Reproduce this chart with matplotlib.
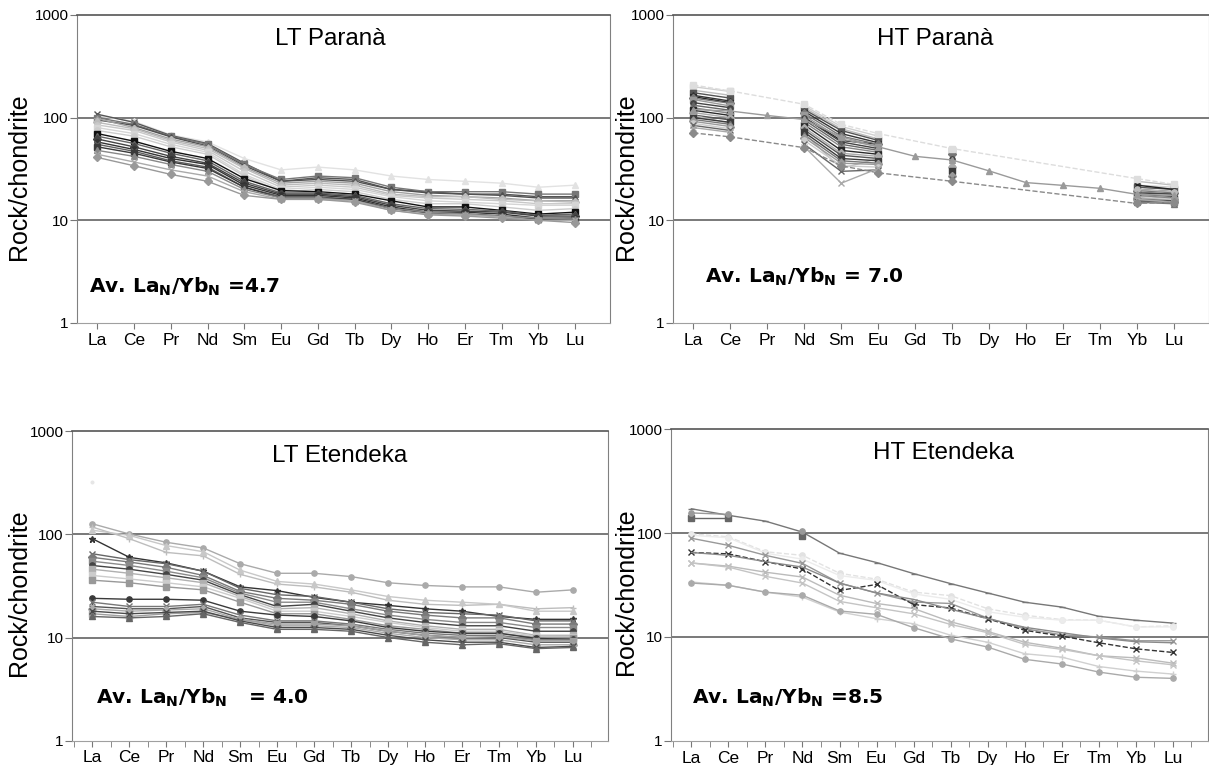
import numpy as np
import matplotlib.pyplot as plt

plt.rcParams['font.family'] = ['Liberation Sans', 'DejaVu Sans']

nan = np.nan
ree = ['La', 'Ce', 'Pr', 'Nd', 'Sm', 'Eu', 'Gd', 'Tb', 'Dy', 'Ho', 'Er', 'Tm', 'Yb', 'Lu']
y_ticks = [1, 10, 100, 1000]

# ---- LT Parana (chondrite normalised) ----
lt_parana = [
    [104, 92, 68, 58, 40, 31, 33, 31, 27, 25, 24, 23, 21, 22],
    [108, 90, 67, 56, 36, 24, 26, 25, 20, 19, 18, 18, 17, 17],
    [100, 86, 66, 55, 35, 25, 27, 26, 21, 19, 19, 19, 18, 18],
    [95, 84, 65, 53, 34, 24, 25, 24, 20, 18.5, 18, 17.5, 16.5, 16.5],
    [98, 80, 62, 52, 33, 23, 24, 23, 19, 17.5, 17, 16.5, 15.5, 15.5],
    [90, 78, 60, 50, 32, 22, 23, 22, 18, 17, 17, 16, 15.5, 15],
    [85, 75, 58, 48, 30, 21, 22, 21, 17.5, 16.5, 16, 15.5, 14.5, 14.5],
    [80, 70, 55, 46, 28, 20, 21, 20, 17, 15.5, 15, 14.5, 14, 14],
    [75, 66, 52, 44, 27, 19, 20, 19, 16, 14.5, 14.5, 13.5, 12.5, 13],
    [70, 59, 47, 40, 25.5, 19.5, 19, 18, 15.5, 13.5, 13.5, 12.5, 11.5, 12],
    [66, 56, 45, 38, 24, 18.5, 18.5, 17.5, 14.5, 13, 12.8, 12.3, 11.2, 11.5],
    [62, 52, 42, 36, 23, 18, 18, 17, 14, 12.5, 12.3, 12, 11, 11],
    [58, 49, 40, 35, 22, 17.5, 17.5, 16.5, 13.5, 12, 12, 11.5, 10.5, 10.5],
    [55, 47, 38, 33, 21, 17, 17, 16, 13, 12, 11.5, 11, 10.3, 10.5],
    [52, 45, 37, 32, 21, 16.5, 16.5, 16, 13, 11.8, 11.5, 11, 10.2, 10.2],
    [48, 42, 35, 30, 20, 16.5, 16.5, 15.5, 13, 12, 11.5, 11, 10.5, 10.3],
    [44, 37, 31, 27, 19, 16, 16, 15.5, 12.5, 11.5, 11.3, 10.8, 10, 10],
    [41, 34, 28, 24, 17.5, 16, 16, 15, 12.5, 11.3, 11, 10.5, 10, 9.5],
]
lt_parana_colors = ['#e2e2e2', '#555555', '#777777', '#505050', '#a0a0a0', '#bbbbbb',
                    '#c8c8c8', '#d5d5d5', '#cccccc', '#111111', '#666666', '#444444',
                    '#333333', '#606060', '#3a3a3a', '#888888', '#aaaaaa', '#999999']
lt_parana_markers = ['^', 'x', 's', '^', '*', 'D', 'o', 's', 'o', 's', '^', 'D',
                     'o', 'x', 's', '^', 'x', 'D']

# ---- HT Parana: most samples lack Pr, Gd, Dy-Tm ----
ht_parana_gapped = [
    [200, 180, nan, 130, 82, 66, nan, nan, nan, nan, nan, nan, 22, 21],
    [185, 165, nan, 125, 78, 62, nan, nan, nan, nan, nan, nan, 24, 22],
    [175, 155, nan, 120, 75, 60, nan, 48, nan, nan, nan, nan, 21, 20],
    [165, 145, nan, 115, 70, 57, nan, nan, nan, nan, nan, nan, 20, 19],
    [160, 140, nan, 100, 60, 55, nan, nan, nan, nan, nan, nan, 22, 20],
    [155, 138, nan, 110, 66, 55, nan, 44, nan, nan, nan, nan, 19.5, 18.5],
    [150, 130, nan, 105, 62, 52, nan, nan, nan, nan, nan, nan, 19, 18],
    [140, 125, nan, 100, 58, 50, nan, 40, nan, nan, nan, nan, 18.5, 18],
    [132, 118, nan, 95, 55, 48, nan, nan, nan, nan, nan, nan, 18, 17],
    [125, 110, nan, 90, 52, 46, nan, 36, nan, nan, nan, nan, 17.5, 16.5],
    [118, 105, nan, 85, 48, 44, nan, nan, nan, nan, nan, nan, 17, 16],
    [112, 100, nan, 80, 45, 42, nan, 33, nan, nan, nan, nan, 16.5, 16],
    [106, 95, nan, 76, 43, 40, nan, nan, nan, nan, nan, nan, 16, 15.5],
    [105, 88, nan, 70, 32, 40, nan, nan, nan, nan, nan, nan, 20, 19],
    [100, 90, nan, 72, 40, 38, nan, 30, nan, nan, nan, nan, 15.5, 15],
    [96, 86, nan, 68, 38, 36, nan, nan, nan, nan, nan, nan, 15, 14.5],
    [92, 82, nan, 64, 36, 35, nan, 27, nan, nan, nan, nan, 16, 15],
    [88, 78, nan, 60, 34, 33, nan, nan, nan, nan, nan, nan, 17, 16],
    [84, 75, nan, 55, 30, 31, nan, 25, nan, nan, nan, nan, 15.5, 15],
    [80, 72, nan, 52, 23, 32, nan, nan, nan, nan, nan, nan, 16, 15],
]
ht_parana_gapped_colors = ['#cfcfcf', '#bdbdbd', '#555555', '#333333', '#222222', '#777777',
                           '#999999', '#444444', '#666666', '#888888', '#2a2a2a', '#aaaaaa',
                           '#555555', '#bbbbbb', '#3c3c3c', '#777777', '#9a9a9a', '#cccccc',
                           '#666666', '#aaaaaa']
ht_parana_gapped_markers = ['s', 'o', 's', '*', 'x', 'D', 's', 'o', '^', 'x', 's', 'D',
                            '*', 'o', 's', '^', 'D', 'o', 'x', 'x']

# samples plotted with the missing elements skipped
ht_parana_linked = [
    [208, 182, nan, 135, 86, 70, nan, 50, nan, nan, nan, nan, 25.5, 22.4],
    [120, 116, 105, 96, 65, 52, 42, 38.7, 30.3, 23.3, 21.9, 20.5, 17.9, 17.5],
    [71, 65, nan, 51, 34, 29, nan, 24, nan, nan, nan, nan, 14.6, 15],
]
ht_parana_linked_colors = ['#dddddd', '#9a9a9a', '#8a8a8a']
ht_parana_linked_markers = ['s', '^', 'D']
ht_parana_linked_styles = ['--', '-', '--']

# ---- LT Etendeka ----
lt_etendeka = [
    [320, nan, nan, nan, nan, nan, nan, nan, nan, nan, nan, nan, nan, nan],
    [127, 101, 84, 74, 52, 42, 42, 39, 34, 32, 31, 31, 27.5, 29],
    [118, 91, 67, 62, 41, 33, 31, 27.5, 23, 21, 20.5, 21, 19, 19.5],
    [110, 98, 78, 68, 45, 35, 33, 29, 25, 23, 22, 21, 18, 18],
    [91, 60, 53, 44, 31, 28.5, 24.5, 22, 20.5, 19, 18, 16, 15, 15],
    [65, 57, 52, 44, 30, 26, 25, 22, 19, 17.5, 17, 16.5, 14.5, 14.5],
    [60, 54, 48, 40, 28, 24, 23, 21, 18, 16.5, 15.5, 15.5, 13.5, 13.5],
    [55, 50, 44, 38, 27, 22, 22, 19, 16.5, 15, 14, 14, 12.5, 12.5],
    [50, 46, 41, 36, 26, 20, 21, 18, 15.5, 14, 13, 13, 11.5, 11.5],
    [46, 42, 38, 34, 25, 19, 19.5, 17, 14.5, 13, 12, 12, 10.5, 10.5],
    [40, 37, 34, 31, 24, 18, 18, 16, 14, 12.5, 11.5, 11.5, 10.3, 10.2],
    [36, 34, 31, 29, 22, 17, 17, 15, 13, 12, 11, 11, 10, 10],
    [24, 23.5, 23.5, 23, 18, 16.5, 16, 14.5, 12.5, 11.5, 11, 11, 9.8, 9.6],
    [22, 20, 20, 21, 16.5, 14.5, 14.5, 13.5, 12, 11, 10.5, 10.5, 9.5, 9.5],
    [20, 19, 19, 20, 15.5, 14, 14, 13, 11.5, 10.5, 10, 10, 9, 9],
    [19, 18, 18.5, 19, 15, 13, 13, 12.5, 11, 10, 9.5, 9.5, 8.5, 8.5],
    [17, 16, 17, 17.5, 15, 13.5, 13.5, 13, 11.5, 10.5, 10, 10.2, 9.3, 9.3],
    [18, 17, 17.5, 18, 14.5, 12.5, 12.5, 12, 10.5, 9.5, 9, 9, 8, 8.2],
    [16, 15.5, 16, 17, 14, 12, 12, 11.5, 10, 9, 8.5, 8.7, 7.8, 8],
]
lt_etendeka_colors = ['#e6e6e6', '#aaaaaa', '#bdbdbd', '#c8c8c8', '#333333', '#666666',
                      '#7a7a7a', '#8a8a8a', '#444444', '#b0b0b0', '#cccccc', '#999999',
                      '#3a3a3a', '#777777', '#555555', '#aaaaaa', '#a0a0a0', '#4a4a4a',
                      '#666666']
lt_etendeka_markers = ['.', 'o', '+', '^', '*', 'x', 'D', 's', 'o', 's', 's', 's',
                       'o', 'x', '+', 'D', 's', 'x', '^']

# ---- HT Etendeka ----
ht_etendeka = [
    [171, 148, 130, 102, 64, 52, 40.7, 32.6, 26.5, 21.6, 19.4, 15.8, 14.5, 13.6],
    [139, 139, nan, 94, nan, nan, nan, nan, nan, nan, nan, nan, nan, nan],
    [156, 151, nan, 104, nan, nan, nan, nan, nan, nan, nan, nan, nan, nan],
    [98, 92, 66, 61, 41, 36, 27, 25, 18.7, 16.2, 14.7, 14.5, 12.5, 12.8],
    [95, 90, 64, 56, 39, 35, 26, 23, 17.5, 15.5, 14.5, 14.5, 12.5, 12.5],
    [89, 76, 61, 51, 33, 26.5, 21.7, 21, 15.2, 12, 10.5, 10, 9.2, 9.2],
    [65, 63, 53, 45, 28, 32, 20.5, 19, 15, 11.6, 10.2, 8.8, 7.7, 7.1],
    [65, 61, 53, 47, 33, 26.5, 23, 18.5, 15, 12.4, 11, 9.8, 9, 8.8],
    [51.5, 48, 42, 37.7, 25.2, 21, 18.8, 14, 11.3, 8.9, 7.8, 6.6, 6.3, 5.6],
    [51.5, 47, 38.3, 33, 22, 19.1, 16.7, 13.2, 11, 8.5, 7.6, 6.6, 5.9, 5.4],
    [33.8, 31.4, 27, 24.2, 17.4, 15, 13.4, 10.4, 8.9, 6.9, 6.4, 5.2, 4.7, 4.4],
    [33, 31.4, 27, 25.2, 17.8, 16.5, 12.3, 9.6, 8, 6.1, 5.5, 4.6, 4.1, 4],
]
ht_etendeka_colors = ['#777777', '#666666', '#999999', '#e2e2e2', '#ececec', '#999999',
                      '#333333', '#8a8a8a', '#bbbbbb', '#c4c4c4', '#d0d0d0', '#aaaaaa']
ht_etendeka_markers = ['_', 's', 'o', 'o', 'o', 'x', 'x', '', 'x', 'x', '+', 'o']
ht_etendeka_styles = ['-', '-', '-', '--', '-', '-', '--', '-', '-', '-', '-', '-']


def draw(ax, rows, colors, markers, styles=None, link=False):
    for i, row in enumerate(rows):
        y = np.array(row, dtype=float)
        x = np.arange(len(y))
        if link:
            ok = ~np.isnan(y)
            x, y = x[ok], y[ok]
        ls = styles[i] if styles else '-'
        m = markers[i]
        ax.plot(x, y, color=colors[i], ls=ls, lw=1.0, marker=m,
                ms=4.5 if m in ('x', '+', '*') else 3.8, mew=1.0)


def setup(ax, title, title_x, note, note_x, note_y, ylab_x, ylab_y, minor):
    ax.set_yscale('log')
    ax.set_ylim(1, 1000)
    ax.set_xlim(-0.55, 13.95)
    ax.set_yticks(y_ticks)
    ax.set_yticklabels([str(v) for v in y_ticks])
    ax.yaxis.set_minor_locator(plt.NullLocator())
    ax.set_xticks(range(len(ree)))
    ax.set_xticklabels(ree)
    if minor:
        ax.set_xticks(np.arange(-0.5, 14.0, 1.0), minor=True)
        ax.tick_params(axis='x', which='minor', length=4, color='#777777')
    ax.tick_params(axis='x', which='major', length=4, color='#777777', labelsize=12.5, pad=3)
    ax.tick_params(axis='y', which='major', length=5, color='#777777', labelsize=11, pad=1)
    for v in (10, 100):
        ax.axhline(v, color='#555555', lw=1.1, zorder=0.5)
    for s in ('left', 'right'):
        ax.spines[s].set_color('#808080')
    ax.spines['top'].set_color('#555555')
    ax.spines['top'].set_linewidth(1.2)
    ax.spines['bottom'].set_color('#a0a0a0')
    ax.text(title_x, 0.922, title, transform=ax.transAxes, ha='center', va='center',
            fontsize=17.5)
    ax.text(note_x, note_y, note, transform=ax.transAxes, ha='left', va='center',
            family='DejaVu Sans', weight='bold', fontsize=14.5)
    ax.set_ylabel('Rock/chondrite', fontsize=18)
    ax.yaxis.set_label_coords(ylab_x, ylab_y)


fig = plt.figure(figsize=(12.09, 7.65), dpi=100)
ax1 = fig.add_axes([0.0637, 0.5778, 0.4409, 0.4026])
ax2 = fig.add_axes([0.5567, 0.5778, 0.4433, 0.4026])
ax3 = fig.add_axes([0.0596, 0.0320, 0.4433, 0.4040])
ax4 = fig.add_axes([0.5550, 0.0314, 0.4442, 0.4078])

draw(ax1, lt_parana, lt_parana_colors, lt_parana_markers)
draw(ax2, ht_parana_gapped, ht_parana_gapped_colors, ht_parana_gapped_markers)
draw(ax2, ht_parana_linked, ht_parana_linked_colors, ht_parana_linked_markers,
     ht_parana_linked_styles, link=True)
draw(ax3, lt_etendeka, lt_etendeka_colors, lt_etendeka_markers)
draw(ax4, ht_etendeka, ht_etendeka_colors, ht_etendeka_markers, ht_etendeka_styles)

setup(ax1, 'LT Paranà', 0.475, r'Av. La$_\mathregular{N}$/Yb$_\mathregular{N}$ =4.7',
      0.023, 0.117, -0.086, 0.474, False)
setup(ax2, 'HT Paranà', 0.489, r'Av. La$_\mathregular{N}$/Yb$_\mathregular{N}$ = 7.0',
      0.06, 0.149, -0.066, 0.474, False)
setup(ax3, 'LT Etendeka', 0.5, r'Av. La$_\mathregular{N}$/Yb$_\mathregular{N}$   = 4.0',
      0.045, 0.139, -0.077, 0.479, True)
setup(ax4, 'HT Etendeka', 0.508, r'Av. La$_\mathregular{N}$/Yb$_\mathregular{N}$ =8.5',
      0.0385, 0.138, -0.062, 0.479, True)

fig.savefig('out.png', dpi=100)
